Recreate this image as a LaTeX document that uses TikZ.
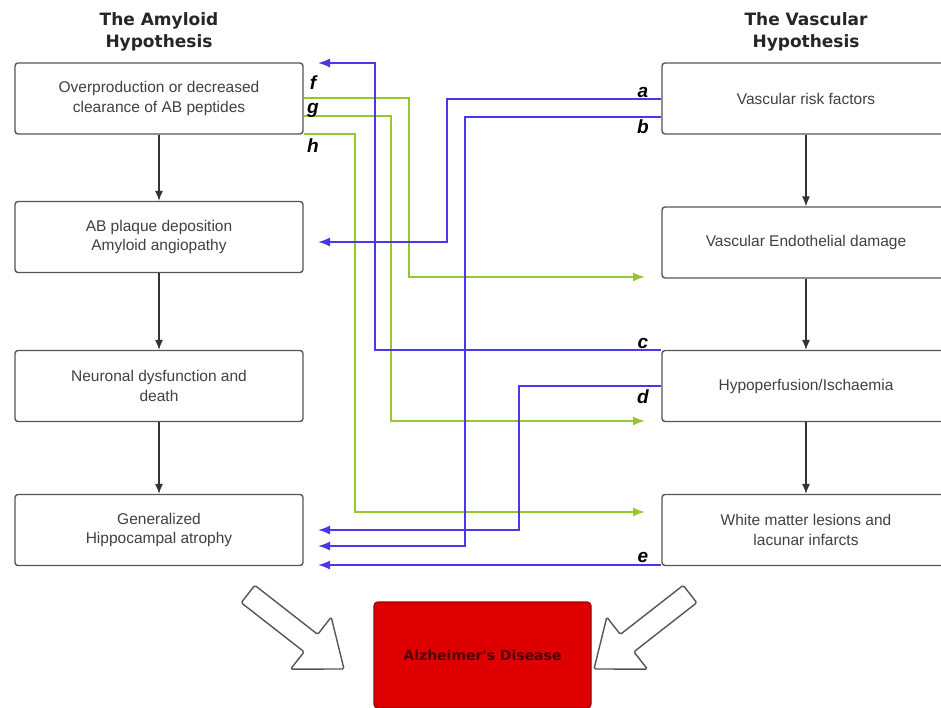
\documentclass[tikz,border=0pt]{standalone}
\usepackage{fontspec}
\setmainfont{Liberation Sans}
\newfontfamily\dvfont{DejaVu Sans}
\usetikzlibrary{arrows.meta}
\definecolor{bluec}{RGB}{75,55,235}
\definecolor{greenc}{RGB}{150,200,45}
\definecolor{boxc}{RGB}{85,85,85}
\definecolor{txtc}{RGB}{65,65,65}
\definecolor{redfill}{RGB}{222,0,0}
\definecolor{redline}{RGB}{160,0,0}
\definecolor{redtxt}{RGB}{80,0,0}
\begin{document}
\begin{tikzpicture}[x=1pt,y=-1pt,
  box/.style={draw=boxc, line width=1.4pt, rounded corners=3pt, minimum width=288pt,
    minimum height=71pt, align=center, text=txtc, inner sep=2pt,
    font=\fontsize{15.5}{19.5}\selectfont},
  head/.style={align=center, text=black!85, font=\dvfont\bfseries\fontsize{17}{22}\selectfont},
  lab/.style={text=black, inner sep=0pt, font=\bfseries\itshape\fontsize{19}{19}\selectfont},
  blk/.style={draw=black!80, line width=1.1pt, -{Latex[length=10pt,width=8pt]}},
  bline/.style={draw=bluec, line width=1.8pt, -{Latex[length=12pt,width=9pt]}},
  gline/.style={draw=greenc, line width=1.8pt, -{Latex[length=12pt,width=9pt]}},
  bigarrow/.style={draw=boxc, line width=1.4pt, fill=white, rounded corners=1.5pt},
  redbox/.style={draw=redline, fill=redfill, line width=1.4pt, rounded corners=4pt,
    minimum width=217pt, minimum height=106pt, text=redtxt,
    font=\dvfont\bfseries\fontsize{14}{16}\selectfont}
]
\clip (0,0) rectangle (941,707);
\fill[white] (0,0) rectangle (941,707);

% headings
\node[head] (hA) at (159,32) {The Amyloid\\Hypothesis};
\node[head] (hV) at (806,32) {The Vascular\\Hypothesis};

% left column
\node[box] (L1) at (159,98.5) {Overproduction or decreased\\clearance of AB peptides};
\node[box] (L2) at (159,237) {AB plaque deposition\\Amyloid angiopathy};
\node[box] (L3) at (159,386) {Neuronal dysfunction and\\death};
\node[box] (L4) at (159,530) {Generalized\\Hippocampal atrophy};

% right column
\node[box] (R1) at (806,98.5) {Vascular risk factors};
\node[box] (R2) at (806,242.5) {Vascular Endothelial damage};
\node[box] (R3) at (806,386) {Hypoperfusion/Ischaemia};
\node[box] (R4) at (806,530) {White matter lesions and\\lacunar infarcts};

% vertical arrows
\draw[blk] (L1.south) -- (L2.north);
\draw[blk] (L2.south) -- (L3.north);
\draw[blk] (L3.south) -- (L4.north);
\draw[blk] (R1.south) -- (R2.north);
\draw[blk] (R2.south) -- (R3.north);
\draw[blk] (R3.south) -- (R4.north);

% connector end points
\coordinate (fS) at (L1.east |- 0,98);
\coordinate (gS) at (L1.east |- 0,116);
\coordinate (hS) at (L1.east |- 0,134);
\coordinate (fE) at (645,277);
\coordinate (gE) at (645,421);
\coordinate (hE) at (645,512);
\coordinate (aS) at (R1.west |- 0,99);
\coordinate (bS) at (R1.west |- 0,117);
\coordinate (cS) at (R3.west |- 0,350);
\coordinate (dS) at (R3.west |- 0,386);
\coordinate (eS) at (R4.west |- 0,565);
\coordinate (aE) at (318,242);
\coordinate (bE) at (318,546);
\coordinate (cE) at (318,63);
\coordinate (dE) at (318,530);
\coordinate (eE) at (318,565);

% green connectors
\draw[gline] (fS) -| (409,277) -- (fE);
\draw[gline] (gS) -| (391,421) -- (gE);
\draw[gline] (hS) -| (355,512) -- (hE);

% blue connectors
\draw[bline] (aS) -| (447,242) -- (aE);
\draw[bline] (bS) -| (465,546) -- (bE);
\draw[bline] (cS) -| (375,63) -- (cE);
\draw[bline] (dS) -| (519,530) -- (dE);
\draw[bline] (eS) -- (eE);

% labels
\node[lab] (la) at (643,92) {a};
\node[lab] (lb) at (643,127) {b};
\node[lab] (lc) at (643,343) {c};
\node[lab] (ld) at (643,397) {d};
\node[lab] (le) at (643,557) {e};
\node[lab] (lf) at (313,83) {f};
\node[lab] (lg) at (313,110) {g};
\node[lab] (lh) at (313,146) {h};

% big hollow arrows
\draw[bigarrow] (241.2,602.7) -- (254.8,585.3) -- (317.7,634.4) -- (331.2,617.1)
  -- (344,669) -- (290.6,669.1) -- (304.1,651.8) -- cycle;
\draw[bigarrow] (696.8,602.7) -- (683.2,585.3) -- (620.3,634.4) -- (606.8,617.1)
  -- (594,669) -- (647.4,669.1) -- (633.9,651.8) -- cycle;

% result box
\node[redbox] (AD) at (482.5,655) {Alzheimer's Disease};
\end{tikzpicture}
\end{document}
